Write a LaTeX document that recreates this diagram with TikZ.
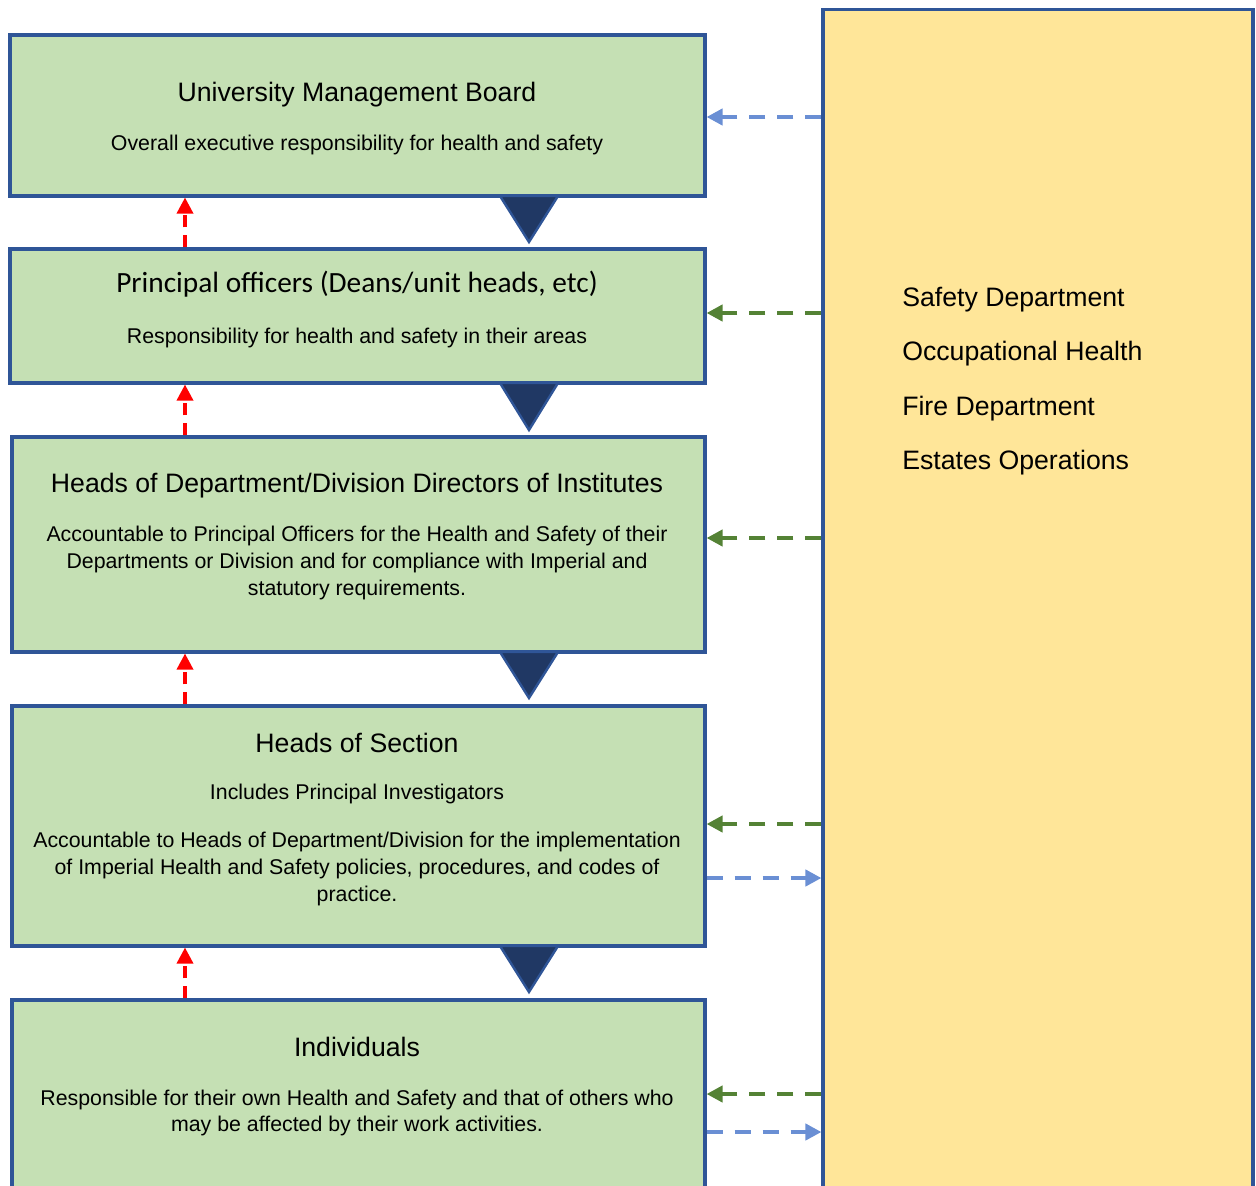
\documentclass[tikz,border=0pt]{standalone}
\usepackage{fontspec}
\setmainfont{Liberation Sans}
\newfontfamily\calfont{Carlito}
\usetikzlibrary{arrows.meta}
\definecolor{boxgreen}{HTML}{C5E0B4}
\definecolor{boxedge}{HTML}{2F5597}
\definecolor{tridark}{HTML}{203864}
\definecolor{paneyellow}{HTML}{FFE699}
\definecolor{arrblue}{HTML}{6A8FD4}
\definecolor{arrgreen}{HTML}{548235}
\definecolor{arrred}{HTML}{FF0000}
\tikzset{
  greenbox/.style={draw=boxedge, fill=boxgreen, line width=2.3pt, inner sep=0pt, rectangle},
  panebox/.style={draw=boxedge, fill=paneyellow, line width=2.3pt, inner sep=0pt, rectangle},
  tri/.style={draw=boxedge, fill=tridark, line width=1.8pt, line join=miter},
  ttl/.style={font=\fontsize{20}{24}\selectfont, inner sep=0pt, align=center},
  bdy/.style={font=\fontsize{16}{20}\selectfont, inner sep=0pt, align=center},
  side/.style={font=\fontsize{20}{24}\selectfont, inner sep=0pt, anchor=west},
  redup/.style={draw=arrred, line width=2.6pt, dash pattern=on 9pt off 6pt, -{Triangle[length=12pt,width=12pt]}},
  blueline/.style={draw=arrblue, line width=3pt, dash pattern=on 12pt off 9pt, -{Triangle[length=12pt,width=12pt]}},
  greenline/.style={draw=arrgreen, line width=3pt, dash pattern=on 12pt off 9pt, -{Triangle[length=12pt,width=12pt]}},
}
\begin{document}
\begin{tikzpicture}[x=0.75pt,y=-0.75pt]
\useasboundingbox (0,0) rectangle (1256,1185);
% right pane
\node[panebox, minimum width=322.5pt, minimum height=893pt] (rb) at (1038,604.5) {};
% boxes
\node[greenbox, minimum width=521.25pt, minimum height=120.75pt] (b1) at (357.5,115.5) {};
\node[greenbox, minimum width=521.25pt, minimum height=100.5pt] (b2) at (357.5,316) {};
\node[greenbox, minimum width=519.75pt, minimum height=161.25pt] (b3) at (358.5,544.5) {};
\node[greenbox, minimum width=519.75pt, minimum height=180pt] (b4) at (358.5,826) {};
\node[greenbox, minimum width=519.75pt, minimum height=150pt] (b5) at (358.5,1100) {};
% triangles
\draw[tri] (500,196) -- (558,196) -- (529,242) -- cycle;
\draw[tri] (500,383) -- (558,383) -- (529,430) -- cycle;
\draw[tri] (500,652) -- (558,652) -- (529,698) -- cycle;
\draw[tri] (500,946) -- (558,946) -- (529,992) -- cycle;
% texts
\node[ttl] (t1) at (357,95) {University Management Board};
\node[bdy] (s1) at (357,145) {Overall executive responsibility for health and safety};
\node[ttl, font=\calfont\fontsize{22}{26}\selectfont] (t2) at (357,284) {Principal officers (Deans/unit heads, etc)};
\node[bdy] (s2) at (357,338) {Responsibility for health and safety in their areas};
\node[ttl] (t3) at (357,486) {Heads of Department/Division Directors of Institutes};
\node[bdy] (s3) at (357,563) {Accountable to Principal Officers for the Health and Safety of their\\Departments or Division and for compliance with Imperial and\\statutory requirements.};
\node[ttl] (t4) at (357,743) {Heads of Section};
\node[bdy] (s4a) at (357,794) {Includes Principal Investigators};
\node[bdy] (s4b) at (357,869) {Accountable to Heads of Department/Division for the implementation\\of Imperial Health and Safety policies, procedures, and codes of\\practice.};
\node[ttl] (t5) at (357,1047) {Individuals};
\node[bdy] (s5) at (357,1113) {Responsible for their own Health and Safety and that of others who\\may be affected by their work activities.};
\node[side] (r1) at (902,300) {Safety Department};
\node[side] (r2) at (902,354) {Occupational Health};
\node[side] (r3) at (902,409) {Fire Department};
\node[side] (r4) at (902,463) {Estates Operations};
% red upward arrows
\coordinate (ax) at (185,0);
\draw[redup] (ax |- b2.north) -- (ax |- b1.south);
\draw[redup] (ax |- b3.north) -- (ax |- b2.south);
\draw[redup] (ax |- b4.north) -- (ax |- b3.south);
\draw[redup] (ax |- b5.north) -- (ax |- b4.south);
% side arrows
\coordinate (y1) at (0,117);
\coordinate (y2) at (0,313);
\coordinate (y3) at (0,538);
\coordinate (y4) at (0,824);
\coordinate (y5) at (0,878);
\coordinate (y6) at (0,1094);
\coordinate (y7) at (0,1132);
\draw[blueline] (rb.west |- y1) -- (b1.east |- y1);
\draw[greenline] (rb.west |- y2) -- (b2.east |- y2);
\draw[greenline] (rb.west |- y3) -- (b3.east |- y3);
\draw[greenline] (rb.west |- y4) -- (b4.east |- y4);
\draw[blueline] (b4.east |- y5) -- (rb.west |- y5);
\draw[greenline] (rb.west |- y6) -- (b5.east |- y6);
\draw[blueline] (b5.east |- y7) -- (rb.west |- y7);
\end{tikzpicture}
\end{document}
